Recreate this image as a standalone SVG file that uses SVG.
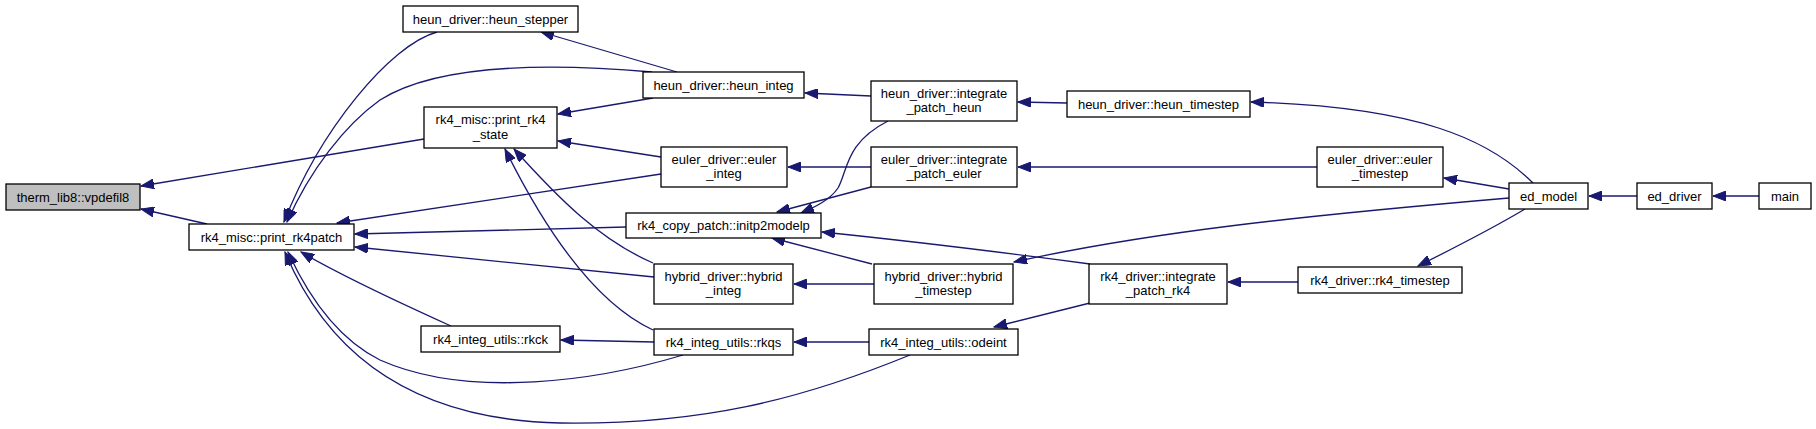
<svg xmlns="http://www.w3.org/2000/svg" width="1816" height="429" viewBox="0 0 1816 429">
<defs>
<marker id="ah" markerUnits="userSpaceOnUse" markerWidth="14" markerHeight="10" refX="13" refY="5" orient="auto">
<path d="M0,0 L13,5 L0,10 z" fill="#191970" stroke="#191970" stroke-width="1"/>
</marker>
</defs>
<style>
.n rect{fill:#ffffff;stroke:#000000;stroke-width:1.3}
.n.g rect{fill:#bfbfbf}
.n text{font-family:"Liberation Sans",Arial,sans-serif;font-size:13px;fill:#000000;text-anchor:middle}
.e path{fill:none;stroke:#191970;stroke-width:1.3;marker-end:url(#ah)}
</style>
<rect width="1816" height="429" fill="#ffffff"/>
<g id="edges" class="e">
<path d="M424,139 L141,186"/>
<path d="M207,224 L141,209"/>
<path d="M437,32 C390,45 320,130 284,222"/>
<path d="M652,72 C560,64 440,62 380,100 C345,125 310,170 287,222"/>
<path d="M677,72 L541,32"/>
<path d="M653,98 L558,114"/>
<path d="M661,157 L558,141"/>
<path d="M661,174 L337,223"/>
<path d="M626,227 L355,234"/>
<path d="M654,277 L355,247"/>
<path d="M653,263 C600,240 560,200 514,149"/>
<path d="M653,330 C610,310 560,260 505,149"/>
<path d="M683,355 C600,380 470,400 380,360 C340,340 310,300 288,252"/>
<path d="M910,355 C800,400 700,425 560,423 C420,420 330,360 285,252"/>
<path d="M451,326 C420,312 340,275 301,252"/>
<path d="M654,342 L561,340"/>
<path d="M869,342 L794,342"/>
<path d="M871,96 L805,93"/>
<path d="M888,121 C845,143 848,170 838,188 C830,200 815,207 801,213"/>
<path d="M871,167 L788,167"/>
<path d="M871,187 L777,212"/>
<path d="M1067,103 L1018,102"/>
<path d="M1317,167 L1018,167"/>
<path d="M874,284 L794,284"/>
<path d="M872,264 L772,238"/>
<path d="M1090,264 C1000,252 900,240 822,232"/>
<path d="M1090,303 L994,327"/>
<path d="M1533,183 C1490,140 1420,107 1251,102"/>
<path d="M1509,189 L1444,178"/>
<path d="M1509,198 C1300,216 1150,232 1014,262"/>
<path d="M1525,209 C1490,230 1450,250 1418,266"/>
<path d="M1298,282 L1228,282"/>
<path d="M1637,196 L1589,196"/>
<path d="M1759,196 L1713,196"/>
</g>
<g id="n_therm" class="n g"><rect x="6" y="184" width="134" height="26"/><text x="73" y="201.5">therm_lib8::vpdefil8</text></g>
<g id="n_print_rk4patch" class="n"><rect x="189" y="224" width="165" height="26"/><text x="271.5" y="241.5">rk4_misc::print_rk4patch</text></g>
<g id="n_heun_stepper" class="n"><rect x="403" y="6" width="175" height="26"/><text x="490.5" y="23.5">heun_driver::heun_stepper</text></g>
<g id="n_print_rk4_state" class="n"><rect x="424" y="107" width="133" height="41"/><text x="490.5" y="124">rk4_misc::print_rk4</text><text x="490.5" y="138.5">_state</text></g>
<g id="n_rkck" class="n"><rect x="421" y="326" width="139" height="26"/><text x="490.5" y="343.5">rk4_integ_utils::rkck</text></g>
<g id="n_heun_integ" class="n"><rect x="643" y="72" width="161" height="26"/><text x="723.5" y="89.5">heun_driver::heun_integ</text></g>
<g id="n_euler_integ" class="n"><rect x="661" y="147" width="126" height="40"/><text x="724" y="163.5">euler_driver::euler</text><text x="724" y="178">_integ</text></g>
<g id="n_initp2modelp" class="n"><rect x="626" y="213" width="195" height="25"/><text x="723.5" y="230">rk4_copy_patch::initp2modelp</text></g>
<g id="n_hybrid_integ" class="n"><rect x="654" y="264" width="139" height="40"/><text x="723.5" y="280.5">hybrid_driver::hybrid</text><text x="723.5" y="295">_integ</text></g>
<g id="n_rkqs" class="n"><rect x="654" y="329" width="139" height="26"/><text x="723.5" y="346.5">rk4_integ_utils::rkqs</text></g>
<g id="n_integrate_patch_heun" class="n"><rect x="871" y="81" width="146" height="40"/><text x="944" y="97.5">heun_driver::integrate</text><text x="944" y="112">_patch_heun</text></g>
<g id="n_integrate_patch_euler" class="n"><rect x="871" y="147" width="146" height="40"/><text x="944" y="163.5">euler_driver::integrate</text><text x="944" y="178">_patch_euler</text></g>
<g id="n_hybrid_timestep" class="n"><rect x="874" y="264" width="139" height="40"/><text x="943.5" y="280.5">hybrid_driver::hybrid</text><text x="943.5" y="295">_timestep</text></g>
<g id="n_odeint" class="n"><rect x="869" y="329" width="149" height="26"/><text x="943.5" y="346.5">rk4_integ_utils::odeint</text></g>
<g id="n_heun_timestep" class="n"><rect x="1067" y="91" width="183" height="26"/><text x="1158.5" y="108.5">heun_driver::heun_timestep</text></g>
<g id="n_integrate_patch_rk4" class="n"><rect x="1089" y="264" width="138" height="40"/><text x="1158" y="280.5">rk4_driver::integrate</text><text x="1158" y="295">_patch_rk4</text></g>
<g id="n_euler_timestep" class="n"><rect x="1317" y="147" width="126" height="40"/><text x="1380" y="163.5">euler_driver::euler</text><text x="1380" y="178">_timestep</text></g>
<g id="n_rk4_timestep" class="n"><rect x="1298" y="267" width="164" height="26"/><text x="1380" y="284.5">rk4_driver::rk4_timestep</text></g>
<g id="n_ed_model" class="n"><rect x="1509" y="183" width="79" height="26"/><text x="1548.5" y="200.5">ed_model</text></g>
<g id="n_ed_driver" class="n"><rect x="1637" y="183" width="75" height="26"/><text x="1674.5" y="200.5">ed_driver</text></g>
<g id="n_main" class="n"><rect x="1759" y="183" width="52" height="26"/><text x="1785" y="200.5">main</text></g>
</svg>
